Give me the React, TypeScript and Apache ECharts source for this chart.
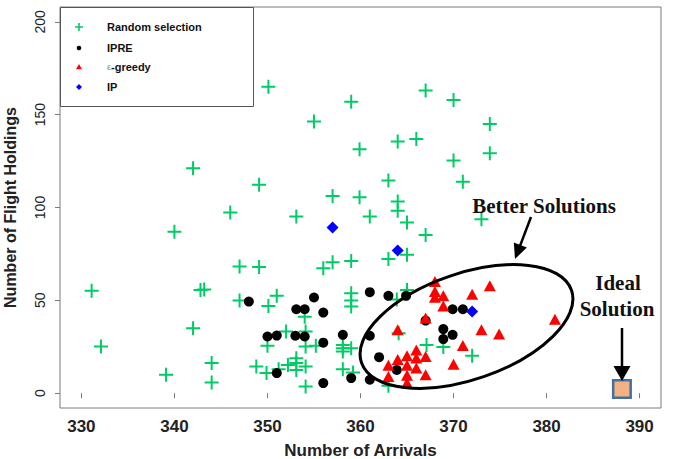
import React, { useEffect, useRef } from "react";
import * as echarts from "echarts";

// ---------- data ----------
const xTicks = [330, 340, 350, 360, 370, 380, 390];
const yTicks = [0, 50, 100, 150, 200];

const randomSelection: [number, number][] = [
  [350.1, 165.1], [359.0, 157.0], [367.0, 163.0], [370.0, 157.9], [355.0, 146.3],
  [373.9, 145.0], [364.0, 135.5], [366.0, 136.9], [359.9, 131.4], [373.9, 129.2],
  [370.0, 125.3], [349.1, 112.2], [363.0, 114.5], [371.0, 113.9], [357.0, 106.2],
  [359.9, 105.5], [364.0, 103.2], [364.0, 98.3], [353.1, 95.1], [361.0, 95.1],
  [365.0, 91.9], [367.0, 85.2], [373.0, 93.7], [349.1, 67.9], [356.0, 67.3],
  [357.0, 70.5], [359.0, 71.2], [363.0, 72.2], [365.0, 74.5], [342.0, 121.2],
  [346.0, 97.3], [340.0, 87.0], [347.0, 68.2], [331.1, 55.1], [342.8, 55.6],
  [343.2, 55.8], [347.0, 49.9], [342.0, 35.0], [332.1, 25.1], [344.0, 16.2],
  [339.1, 9.9], [344.0, 5.7], [348.8, 14.3], [350.1, 47.0], [351.0, 52.4],
  [359.0, 53.8], [359.0, 49.9], [359.0, 46.7], [354.0, 41.2], [352.0, 33.2],
  [354.1, 33.2], [350.0, 25.5], [354.1, 25.1], [355.2, 25.5], [358.1, 26.0],
  [358.1, 24.2], [358.1, 22.4], [359.0, 24.2], [353.1, 18.8], [353.1, 16.2],
  [349.9, 10.8], [351.2, 12.9], [352.2, 15.2], [354.1, 14.3], [353.1, 12.5],
  [358.1, 12.9], [359.2, 11.1], [354.1, 3.6], [365.0, 55.6], [363.9, 50.4],
  [364.1, 32.3], [367.1, 26.0], [368.9, 24.8], [372.0, 20.1], [363.0, 4.0],
];

const ipre: [number, number][] = [
  [348.0, 49.3], [355.0, 51.5], [353.1, 45.2], [354.0, 45.2], [356.0, 43.4],
  [361.0, 54.4], [363.0, 52.4], [364.9, 52.4], [350.0, 30.5], [351.0, 31.0],
  [353.0, 30.9], [354.0, 30.5], [356.0, 27.2], [358.1, 31.4], [361.0, 30.9],
  [362.0, 19.4], [351.0, 10.8], [359.0, 8.1], [361.0, 7.2], [356.0, 5.4],
  [363.9, 12.5], [367.0, 39.1], [369.9, 45.2], [371.0, 45.2], [368.9, 34.5],
  [369.9, 31.4], [368.9, 29.1],
];

const epsGreedy: [number, number][] = [
  [368.0, 60.1], [368.0, 54.7], [368.9, 52.4], [368.0, 51.7], [368.9, 47.0],
  [372.0, 53.3], [373.9, 57.9], [367.0, 40.5], [364.0, 34.1], [373.0, 34.1],
  [374.9, 31.9], [380.9, 39.8], [371.0, 25.7], [370.0, 15.6], [367.0, 9.9],
  [366.0, 23.3], [365.0, 20.1], [366.0, 19.0], [367.0, 19.7], [364.0, 18.1],
  [363.0, 15.0], [365.0, 15.0], [366.0, 13.5], [363.0, 9.0], [365.0, 9.6],
  [365.0, 5.4],
];

const ip: [number, number][] = [
  [357.0, 89.2], [364.0, 76.9], [372.0, 44.0],
];

const idealSolution: [number, number][] = [[388.1, 2.2]];

const seriesNames = ["Random selection", "IPRE", "ε-greedy", "IP", "Ideal Solution"];
const xTitle = "Number of Arrivals";
const yTitle = "Number of Flight Holdings";

// ---------- styles ----------
const GREEN = "#00CC66";
const SANS = "'Liberation Sans', Arial, sans-serif";
const SERIF = "'Liberation Serif', 'Times New Roman', serif";
const CROSS = "path://M6,0H8V6H14V8H8V14H6V8H0V6H6Z";

function arrow(x1: number, y1: number, x2: number, y2: number, headLen: number, headW: number) {
  const dx = x2 - x1;
  const dy = y2 - y1;
  const len = Math.sqrt(dx * dx + dy * dy);
  const ux = dx / len;
  const uy = dy / len;
  const bx = x2 - ux * headLen;
  const by = y2 - uy * headLen;
  const nx = -uy;
  const ny = ux;
  return [
    {
      type: "line",
      z: 100,
      shape: { x1, y1, x2: bx + ux * 2, y2: by + uy * 2 },
      style: { stroke: "#000", lineWidth: 2.5 },
    },
    {
      type: "polygon",
      z: 100,
      shape: {
        points: [
          [x2, y2],
          [bx + (nx * headW) / 2, by + (ny * headW) / 2],
          [bx - (nx * headW) / 2, by - (ny * headW) / 2],
        ],
      },
      style: { fill: "#000" },
    },
  ];
}

function legendElements() {
  const rows = [27, 48, 67, 87];
  const ix = 79;
  const tx = 107;
  const els: any[] = [
    {
      type: "rect",
      z: 50,
      shape: { x: 60.5, y: 7.5, width: 193, height: 99 },
      style: { fill: "#fff", stroke: "#555", lineWidth: 1 },
    },
    {
      type: "polygon",
      z: 51,
      shape: {
        points: [
          [ix - 0.8, rows[0] - 4], [ix + 0.8, rows[0] - 4], [ix + 0.8, rows[0] - 0.8],
          [ix + 4, rows[0] - 0.8], [ix + 4, rows[0] + 0.8], [ix + 0.8, rows[0] + 0.8],
          [ix + 0.8, rows[0] + 4], [ix - 0.8, rows[0] + 4], [ix - 0.8, rows[0] + 0.8],
          [ix - 4, rows[0] + 0.8], [ix - 4, rows[0] - 0.8], [ix - 0.8, rows[0] - 0.8],
        ],
      },
      style: { fill: GREEN },
    },
    { type: "circle", z: 51, shape: { cx: ix, cy: rows[1], r: 2.3 }, style: { fill: "#000" } },
    {
      type: "polygon",
      z: 51,
      shape: { points: [[ix, rows[2] - 3], [ix + 3, rows[2] + 2.2], [ix - 3, rows[2] + 2.2]] },
      style: { fill: "#FF0000" },
    },
    {
      type: "polygon",
      z: 51,
      shape: { points: [[ix, rows[3] - 3], [ix + 3, rows[3]], [ix, rows[3] + 3], [ix - 3, rows[3]]] },
      style: { fill: "#0000FF" },
    },
  ];
  const labels = [seriesNames[0], seriesNames[1], null, seriesNames[3]];
  labels.forEach((t, i) => {
    if (t === null) return;
    els.push({
      type: "text",
      z: 51,
      x: tx,
      y: rows[i],
      style: {
        text: t,
        fill: "#111",
        font: `bold 11px ${SANS}`,
        align: "left",
        verticalAlign: "middle",
      },
    });
  });
  els.push({
    type: "text",
    z: 51,
    x: tx,
    y: rows[2],
    style: {
      text: "{e|ε}{b|-greedy}",
      align: "left",
      verticalAlign: "middle",
      rich: {
        e: { fontSize: 9, fontFamily: SANS, fill: "#888", color: "#888", verticalAlign: "middle" },
        b: { fontSize: 11, fontWeight: "bold", fontFamily: SANS, fill: "#111", color: "#111", verticalAlign: "middle" },
      },
    },
  });
  return els;
}

export default function App() {
  const ref = useRef<HTMLDivElement>(null);

  useEffect(() => {
    if (!ref.current) return;
    const chart = echarts.init(ref.current, undefined, { renderer: "svg" });

    const option: any = {
      animation: false,
      backgroundColor: "#fff",
      grid: {
        left: 60,
        right: 20,
        top: 7,
        bottom: 51,
        containLabel: false,
        outerBoundsMode: "none",
        show: true,
        borderColor: "#7a7a7a",
        borderWidth: 1,
        backgroundColor: "transparent",
      },
      xAxis: {
        type: "value",
        min: 327.7,
        max: 392.3,
        name: xTitle,
        nameLocation: "middle",
        nameGap: 34,
        nameTextStyle: { fontFamily: SANS, fontWeight: "bold", fontSize: 17, color: "#222" },
        axisLine: { show: false },
        splitLine: { show: false },
        axisTick: { show: true, length: 5, customValues: xTicks, lineStyle: { color: "#7a7a7a" } },
        axisLabel: {
          customValues: xTicks,
          fontFamily: SANS,
          fontWeight: "bold",
          fontSize: 17,
          color: "#222",
          margin: 10,
        },
      },
      yAxis: {
        type: "value",
        min: -8,
        max: 208,
        name: yTitle,
        nameLocation: "middle",
        nameGap: 42,
        nameTextStyle: { fontFamily: SANS, fontWeight: "bold", fontSize: 16, color: "#222" },
        axisLine: { show: false },
        splitLine: { show: false },
        axisTick: { show: true, length: 5, customValues: yTicks, lineStyle: { color: "#7a7a7a" } },
        axisLabel: {
          customValues: yTicks,
          rotate: 90,
          fontFamily: SANS,
          fontSize: 14,
          color: "#222",
          margin: 13,
        },
      },
      series: [
        {
          name: seriesNames[0],
          type: "scatter",
          data: randomSelection,
          symbol: CROSS,
          symbolSize: 14,
          itemStyle: { color: GREEN, opacity: 1 },
          z: 2,
        },
        {
          name: seriesNames[1],
          type: "scatter",
          data: ipre,
          symbol: "circle",
          symbolSize: 10,
          itemStyle: { color: "#000", opacity: 1 },
          z: 3,
        },
        {
          name: seriesNames[2],
          type: "scatter",
          data: epsGreedy,
          symbol: "triangle",
          symbolSize: [12, 11],
          itemStyle: { color: "#FF0000", opacity: 1 },
          z: 4,
        },
        {
          name: seriesNames[3],
          type: "scatter",
          data: ip,
          symbol: "diamond",
          symbolSize: 12,
          itemStyle: { color: "#0000FF", opacity: 1 },
          z: 5,
        },
        {
          name: seriesNames[4],
          type: "scatter",
          data: idealSolution,
          symbol: "rect",
          symbolSize: 17.5,
          itemStyle: { color: "#F4B183", borderColor: "#41719C", borderWidth: 2.5, opacity: 1 },
          z: 6,
        },
      ],
      graphic: {
        elements: [
          ...legendElements(),
          {
            type: "ellipse",
            z: 100,
            x: 466.5,
            y: 326.5,
            rotation: (19 * Math.PI) / 180,
            shape: { cx: 0, cy: 0, rx: 111, ry: 53 },
            style: { fill: "none", stroke: "#000", lineWidth: 3 },
          },
          {
            type: "text",
            z: 100,
            x: 544,
            y: 206,
            style: {
              text: "Better Solutions",
              font: `bold 21px ${SERIF}`,
              fill: "#111",
              align: "center",
              verticalAlign: "middle",
            },
          },
          ...arrow(531, 217, 515, 259, 15, 14),
          {
            type: "text",
            z: 100,
            x: 618,
            y: 283,
            style: {
              text: "Ideal",
              font: `bold 21px ${SERIF}`,
              fill: "#111",
              align: "center",
              verticalAlign: "middle",
            },
          },
          {
            type: "text",
            z: 100,
            x: 617,
            y: 309,
            style: {
              text: "Solution",
              font: `bold 21px ${SERIF}`,
              fill: "#111",
              align: "center",
              verticalAlign: "middle",
            },
          },
          ...arrow(622, 328, 622, 381, 15, 17),
        ],
      },
    };

    chart.setOption(option);
    return () => chart.dispose();
  }, []);

  return (
    <div
      ref={ref}
      style={{ position: "absolute", left: 0, top: 0, width: 681, height: 459, background: "#fff" }}
    />
  );
}
